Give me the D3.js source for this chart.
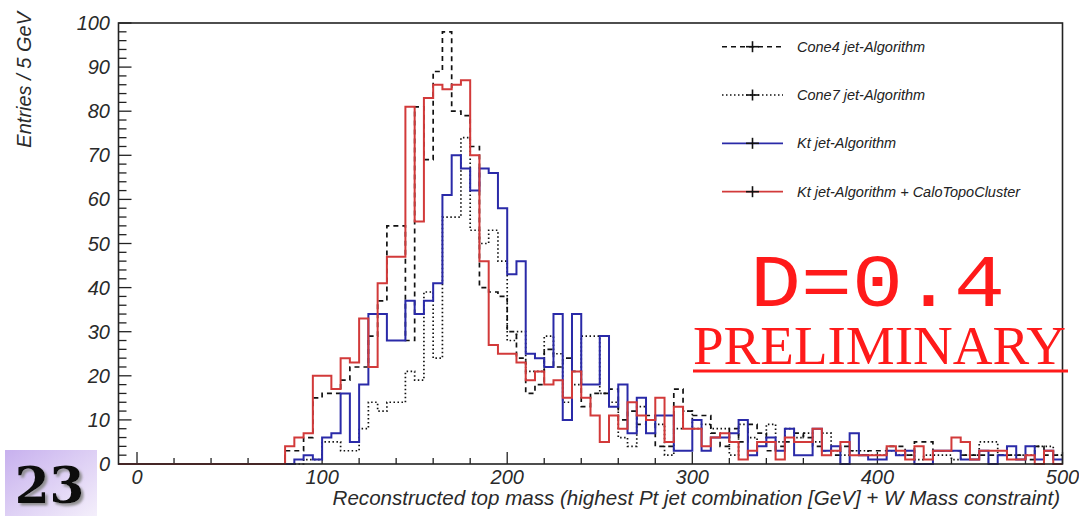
<!DOCTYPE html>
<html>
<head>
<meta charset="utf-8">
<script src="https://cdn.jsdelivr.net/npm/d3@7"></script>
<style>
  html, body { margin: 0; padding: 0; background: #ffffff; }
  svg { display: block; }
</style>
</head>
<body>
<div id="chart"></div>
<script>
// --- data: entries per 5 GeV bin, bins from 0 to 500 GeV ---
const binWidth = 5;
const cone4 = [
  0,0,0,0,0,0,0,0,0,0, 0,0,0,0,0,0,3,3,6,15,
  16,16,19,22,22,29,37,54,54,28, 81,69,89,98,80,79,72,40,39,38,
  30,24,16,18,26,22,24,21,13,16, 16,17,10,12,9,11,4,4,17,12,
  11,11,7,4,8,5,9,7,3,4, 5,7,6,4,3,2,4,3,2,3,
  3,4,4,2,5,5,3,3,3,2, 2,2,2,2,2,2,1,4,2,2
];
const cone7 = [
  0,0,0,0,0,0,0,0,0,0, 0,0,0,0,0,0,0,0,1,1,
  5,5,3,3,8,14,12,14,14,21, 19,39,24,56,56,74,53,50,53,46,
  28,30,21,21,29,25,14,18,29,29, 16,14,6,4,13,10,9,2,8,12,
  8,9,8,8,2,9,6,5,9,5, 8,6,7,5,7,3,2,3,3,2,
  2,3,2,2,1,2,2,2,1,2, 2,5,5,2,2,2,2,4,4,2
];
const ktJet = [
  0,0,0,0,0,0,0,0,0,0, 0,0,0,0,0,0,0,1,2,1,
  6,7,16,5,18,34,34,28,28,37, 34,37,41,61,70,67,62,67,66,58,
  43,46,25,24,22,34,10,34,18,18, 29,13,18,7,15,7,11,11,3,3,
  10,3,6,6,7,10,2,4,6,3, 8,2,2,8,3,4,0,7,2,1,
  1,3,2,3,0,0,3,3,3,1, 1,3,0,2,4,1,4,1,3,1
];
const ktTopo = [
  0,0,0,0,0,0,0,0,0,0, 0,0,0,0,0,0,4,6,7,20,
  20,17,24,23,33,22,41,47,47,81, 55,83,86,85,86,87,70,46,27,25,
  25,23,19,21,18,19,15,21,15,11, 5,11,8,14,11,10,15,5,13,8,
  8,4,6,7,5,1,3,5,5,1, 6,5,5,8,2,3,5,2,2,2,
  2,4,3,1,4,1,3,3,6,5, 1,3,3,3,1,1,2,0,3,0
];

const seriesNames = [
  "Cone4 jet-Algorithm",
  "Cone7 jet-Algorithm",
  "Kt jet-Algorithm",
  "Kt jet-Algorithm + CaloTopoCluster"
];
const seriesValues = [cone4, cone7, ktJet, ktTopo];
const seriesColors = ["#111111", "#111111", "#2a2aa8", "#d23a3a"];
const seriesDash = ["5,4", "1.5,2.5", null, null];

const xDomain = [-10, 500];
const yDomain = [0, 100];
const xTickLabels = [0, 100, 200, 300, 400, 500];
const yTickLabels = [0, 10, 20, 30, 40, 50, 60, 70, 80, 90, 100];

// --- layout ---
const W = 1079, H = 518;
const frame = { left: 118.5, right: 1062.5, top: 23, bottom: 464 };

const svg = d3.select("#chart").append("svg")
  .attr("width", W).attr("height", H)
  .style("font-family", "'Liberation Sans', Arial, sans-serif");

svg.append("rect").attr("width", W).attr("height", H).attr("fill", "#ffffff");

const x = d3.scaleLinear().domain(xDomain).range([frame.left, frame.right]);
const y = d3.scaleLinear().domain(yDomain).range([frame.bottom, frame.top]);

// ticks (ROOT style: drawn inside the frame)
const axisG = svg.append("g").attr("stroke", "#222").attr("stroke-width", 1.3);
d3.range(0, 501, 20).forEach(v => {
  const len = v % 100 === 0 ? 12 : 6;
  axisG.append("line")
    .attr("x1", x(v)).attr("x2", x(v))
    .attr("y1", frame.bottom).attr("y2", frame.bottom - len);
});
d3.range(0, 101, 2).forEach(v => {
  const len = v % 10 === 0 ? 13 : 8;
  axisG.append("line")
    .attr("x1", frame.left).attr("x2", frame.left + len)
    .attr("y1", y(v)).attr("y2", y(v));
});

// tick labels
svg.append("g").selectAll("text").data(xTickLabels).join("text")
  .attr("x", d => x(d)).attr("y", 484)
  .attr("text-anchor", "middle")
  .attr("font-size", 20).attr("font-style", "italic").attr("fill", "#2a2a2a")
  .text(d => d);

svg.append("g").selectAll("text").data(yTickLabels).join("text")
  .attr("x", 110).attr("y", d => y(d) + 7)
  .attr("text-anchor", "end")
  .attr("font-size", 20).attr("font-style", "italic").attr("fill", "#2a2a2a")
  .text(d => d);

// axis titles
const xTitle = svg.append("text")
  .attr("x", 1060).attr("y", 505)
  .attr("text-anchor", "end")
  .attr("font-size", 18).attr("font-style", "italic").attr("fill", "#2a2a2a")
  .text("Reconstructed top mass (highest Pt jet combination [GeV] + W Mass constraint)");
// squeeze the title to the width it has in the picture
const titleLen = xTitle.node().getComputedTextLength();
xTitle.attr("font-size", 18 * 728 / titleLen);

svg.append("text")
  .attr("transform", "translate(31,12) rotate(-90)")
  .attr("text-anchor", "end")
  .attr("font-size", 20).attr("font-style", "italic").attr("fill", "#2a2a2a")
  .text("Entries / 5 GeV");

// histograms as step outlines
const line = d3.line();
seriesValues.forEach((vals, k) => {
  const pts = [[x(xDomain[0]), y(0)]];
  vals.forEach((v, i) => {
    pts.push([x(i * binWidth), y(v)]);
    pts.push([x((i + 1) * binWidth), y(v)]);
  });
  svg.append("path")
    .attr("d", line(pts))
    .attr("fill", "none")
    .attr("stroke", seriesColors[k])
    .attr("stroke-width", k < 2 ? 1.7 : 2)
    .attr("stroke-dasharray", seriesDash[k]);
});

// frame
svg.append("rect")
  .attr("x", frame.left).attr("y", frame.top)
  .attr("width", frame.right - frame.left).attr("height", frame.bottom - frame.top)
  .attr("fill", "none").attr("stroke", "#222").attr("stroke-width", 1.6);

// legend
const legY = [46.7, 95, 143.3, 191.7];
const leg = svg.append("g");
seriesNames.forEach((name, k) => {
  leg.append("line")
    .attr("x1", 722).attr("x2", 783).attr("y1", legY[k]).attr("y2", legY[k])
    .attr("stroke", seriesColors[k]).attr("stroke-width", k < 2 ? 1.5 : 1.8)
    .attr("stroke-dasharray", seriesDash[k]);
  leg.append("line")
    .attr("x1", 746).attr("x2", 759).attr("y1", legY[k]).attr("y2", legY[k])
    .attr("stroke", "#111").attr("stroke-width", 1.6);
  leg.append("line")
    .attr("x1", 752.5).attr("x2", 752.5).attr("y1", legY[k] - 5.5).attr("y2", legY[k] + 5.5)
    .attr("stroke", "#111").attr("stroke-width", 1.6);
  leg.append("text")
    .attr("x", 797).attr("y", legY[k] + 5)
    .attr("font-size", 14.5).attr("font-style", "italic").attr("fill", "#222")
    .text(name);
});

// stamp texts
svg.append("text")
  .attr("x", 750).attr("y", 306)
  .attr("font-family", "'Liberation Mono', 'Courier New', monospace")
  .attr("font-size", 74).attr("fill", "#ff1a1a")
  .attr("textLength", 255).attr("lengthAdjust", "spacingAndGlyphs")
  .text("D=0.4");

svg.append("text")
  .attr("x", 693).attr("y", 364)
  .attr("font-family", "'Liberation Serif', 'Times New Roman', serif")
  .attr("font-size", 54).attr("fill", "#ff1a1a")
  .attr("textLength", 373).attr("lengthAdjust", "spacingAndGlyphs")
  .text("PRELIMINARY");
svg.append("line")
  .attr("x1", 693).attr("x2", 1068).attr("y1", 371).attr("y2", 371)
  .attr("stroke", "#ff1a1a").attr("stroke-width", 3);

// slide number badge
const defs = svg.append("defs");
const grad = defs.append("linearGradient").attr("id", "badge-grad")
  .attr("x1", "0%").attr("y1", "0%").attr("x2", "100%").attr("y2", "100%");
grad.append("stop").attr("offset", "0%").attr("stop-color", "#c7b0ee");
grad.append("stop").attr("offset", "100%").attr("stop-color", "#f4effb");
defs.append("filter").attr("id", "badge-shadow")
  .append("feDropShadow")
  .attr("dx", 2.5).attr("dy", 2.5).attr("stdDeviation", 0.8)
  .attr("flood-color", "#888").attr("flood-opacity", 0.9);
svg.append("rect")
  .attr("x", 5).attr("y", 450).attr("width", 92).attr("height", 66)
  .attr("fill", "url(#badge-grad)");
svg.append("text")
  .attr("x", 49.5).attr("y", 503)
  .attr("text-anchor", "middle")
  .attr("font-family", "'DejaVu Serif', serif").attr("font-weight", "bold")
  .attr("font-size", 50).attr("fill", "#111")
  .style("filter", "url(#badge-shadow)")
  .text("23");
</script>
</body>
</html>
